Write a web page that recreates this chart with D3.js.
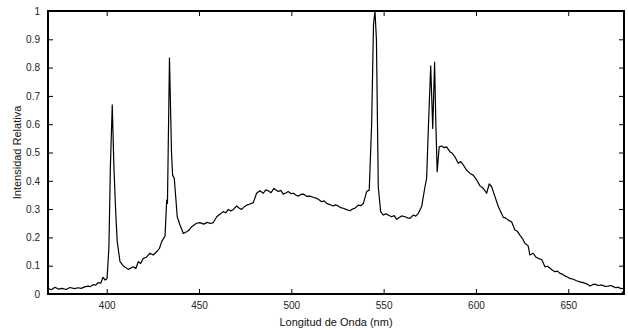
<!DOCTYPE html>
<html>
<head>
<meta charset="utf-8">
<script src="https://cdn.jsdelivr.net/npm/d3@7"></script>
<style>
  body { margin: 0; background: #fff; }
  svg text { font-family: "Liberation Sans", Arial, sans-serif; }
</style>
</head>
<body>
<svg id="chart" width="628" height="330"></svg>
<script>
// spectrum
var wavelengths = [368.2, 370.0, 372.0, 374.0, 375.8, 378.0, 380.1, 382.5, 384.5, 386.2, 388.0, 389.9, 391.2, 392.6, 394.0, 395.3, 396.8, 398.0, 399.2, 400.2,
  401.2, 402.0, 403.0, 403.9, 404.9, 405.7, 407.2, 409.0, 411.7, 414.4, 415.8, 417.1, 418.4, 419.8, 421.5, 423.4, 425.2, 427.1, 428.5, 429.8, 431.6, 432.5, 432.9,
  434.0, 435.1, 435.7, 436.6, 438.2, 439.7, 441.5, 443.3, 444.6, 446.0, 448.7, 450.5, 452.5, 454.5, 456.3, 457.7, 459.6, 461.5, 463.1, 464.5, 465.9, 467.2, 468.6, 470.4,
  471.8, 473.1, 474.5, 475.8, 477.6, 479.4, 481.2, 483.0, 484.8, 486.2, 487.5, 489.0, 490.6, 492.9, 494.3, 495.6, 497.0, 498.3, 499.7, 501.1, 502.4, 503.8, 505.2, 506.5,
  508.3, 510.1, 511.9, 513.7, 515.0, 516.4, 517.8, 519.1, 520.9, 522.7, 524.0, 525.4, 526.8, 528.1, 530.0, 531.8, 533.1, 534.4, 536.3, 537.6, 539.0, 540.8, 542.2,
  543.5, 544.5, 545.3, 546.1, 547.1, 548.4, 549.8, 551.2, 552.5, 554.3, 555.7, 557.1, 558.4, 559.8, 561.6, 563.0, 564.3, 566.1, 567.4, 568.8, 570.6, 572.4, 573.3,
  574.3, 575.5, 576.6, 577.6, 578.3, 579.0, 580.1, 581.4, 582.8, 584.1, 585.9, 587.2, 588.6, 590.4, 591.8, 593.1, 594.9, 596.8, 598.5, 600.4, 602.2, 604.0, 605.8,
  607.2, 608.5, 610.3, 612.1, 613.5, 614.8, 616.2, 617.5, 619.3, 621.1, 622.4, 623.8, 625.2, 626.5, 628.3, 629.2, 631.0, 632.4, 633.7, 635.6, 637.4, 638.8, 640.1,
  641.5, 642.8, 644.2, 645.5, 646.9, 648.2, 649.6, 650.9, 652.7, 654.5, 656.3, 658.1, 660.0, 661.8, 663.1, 664.4, 666.2, 668.1, 669.9, 671.7, 673.1, 674.4, 675.8,
  677.1, 678.5, 679.8];

var intensities = [0.02, 0.015, 0.024, 0.017, 0.02, 0.016, 0.023, 0.019, 0.022, 0.02, 0.025, 0.028, 0.026, 0.033, 0.031, 0.04, 0.038, 0.059, 0.049, 0.055,
  0.167, 0.45, 0.668, 0.45, 0.285, 0.185, 0.114, 0.099, 0.087, 0.096, 0.09, 0.114, 0.108, 0.126, 0.13, 0.144, 0.138, 0.15, 0.16, 0.185, 0.205, 0.332, 0.32,
  0.834, 0.5, 0.42, 0.409, 0.273, 0.244, 0.214, 0.22, 0.226, 0.238, 0.25, 0.252, 0.247, 0.253, 0.249, 0.252, 0.273, 0.283, 0.291, 0.287, 0.299, 0.293, 0.299, 0.311,
  0.303, 0.299, 0.308, 0.314, 0.318, 0.323, 0.356, 0.365, 0.356, 0.368, 0.365, 0.358, 0.373, 0.362, 0.366, 0.353, 0.357, 0.362, 0.355, 0.356, 0.35, 0.346, 0.352, 0.353,
  0.345, 0.346, 0.342, 0.338, 0.333, 0.326, 0.329, 0.32, 0.316, 0.311, 0.315, 0.311, 0.305, 0.303, 0.298, 0.294, 0.3, 0.303, 0.314, 0.312, 0.32, 0.362, 0.367,
  0.6, 0.95, 1.0, 0.9, 0.379, 0.291, 0.279, 0.283, 0.279, 0.273, 0.277, 0.264, 0.27, 0.276, 0.273, 0.269, 0.267, 0.279, 0.275, 0.285, 0.309, 0.379, 0.409,
  0.6, 0.806, 0.585, 0.819, 0.6, 0.432, 0.52, 0.523, 0.517, 0.52, 0.503, 0.497, 0.485, 0.462, 0.468, 0.456, 0.438, 0.426, 0.42, 0.403, 0.382, 0.373, 0.356,
  0.389, 0.379, 0.344, 0.309, 0.29, 0.271, 0.268, 0.261, 0.255, 0.226, 0.222, 0.208, 0.196, 0.179, 0.17, 0.138, 0.144, 0.131, 0.126, 0.122, 0.096, 0.098, 0.091,
  0.084, 0.079, 0.081, 0.073, 0.07, 0.064, 0.06, 0.055, 0.052, 0.047, 0.043, 0.04, 0.036, 0.028, 0.033, 0.035, 0.03, 0.032, 0.027, 0.028, 0.03, 0.026, 0.022,
  0.024, 0.019, 0.02];

var xTicks = [400, 450, 500, 550, 600, 650];
var yTicks = [0, 0.1, 0.2, 0.3, 0.4, 0.5, 0.6, 0.7, 0.8, 0.9, 1];

var svg = d3.select("#chart"),
  margin = {top: 11, right: 4, bottom: 36, left: 48},
  width = 628 - margin.left - margin.right,
  height = 330 - margin.top - margin.bottom;

var g = svg.append("g").attr("transform", "translate(" + margin.left + "," + margin.top + ")");

var x = d3.scaleLinear().domain([368.2, 680.2]).range([0, width]);
var y = d3.scaleLinear().domain([0, 1]).range([height, 0]);

var data = wavelengths.map(function (w, i) { return {w: w, v: intensities[i]}; });

var tickFmt = function (d) { return d === 0 || d === 1 ? String(d) : d3.format(".1f")(d); };

// bottom axis with labels, ticks pointing in
var xAxis = g.append("g")
  .attr("transform", "translate(0," + height + ")")
  .call(d3.axisBottom(x).tickValues(xTicks).tickSize(-5).tickPadding(8).tickFormat(d3.format("d")));
// top mirror
var xTop = g.append("g")
  .call(d3.axisTop(x).tickValues(xTicks).tickSize(-5).tickFormat(""));
// left axis
var yAxis = g.append("g")
  .call(d3.axisLeft(y).tickValues(yTicks).tickSize(-5).tickPadding(8).tickFormat(tickFmt));
// right mirror
var yRight = g.append("g")
  .attr("transform", "translate(" + width + ",0)")
  .call(d3.axisRight(y).tickValues(yTicks).tickSize(-5).tickFormat(""));

[xAxis, xTop, yAxis, yRight].forEach(function (a) {
  a.select(".domain").remove();
  a.selectAll(".tick line").attr("stroke", "#000").attr("stroke-width", 1);
  a.selectAll(".tick text").attr("fill", "#222").style("font-size", "10px");
});

var line = d3.line()
  .x(function (d) { return x(d.w); })
  .y(function (d) { return y(d.v); });

g.append("path")
  .datum(data)
  .attr("fill", "none")
  .attr("stroke", "#000")
  .attr("stroke-width", 1.2)
  .attr("stroke-linejoin", "round")
  .attr("d", line);

// little blue end marker
g.append("rect")
  .attr("x", x(679.5) - 1)
  .attr("y", y(0.004) - 1.5)
  .attr("width", 3)
  .attr("height", 3)
  .attr("fill", "#1030e0");

// frame
g.append("rect")
  .attr("width", width)
  .attr("height", height)
  .attr("fill", "none")
  .attr("stroke", "#000")
  .attr("stroke-width", 2);

svg.append("text")
  .attr("x", margin.left + width / 2)
  .attr("y", 326)
  .attr("text-anchor", "middle")
  .style("font-size", "11px")
  .attr("fill", "#111")
  .text("Longitud de Onda (nm)");

svg.append("text")
  .attr("transform", "translate(21," + (margin.top + height / 2) + ") rotate(-90)")
  .attr("text-anchor", "middle")
  .style("font-size", "11px")
  .attr("fill", "#111")
  .text("Intensidad Relativa");
</script>
</body>
</html>
